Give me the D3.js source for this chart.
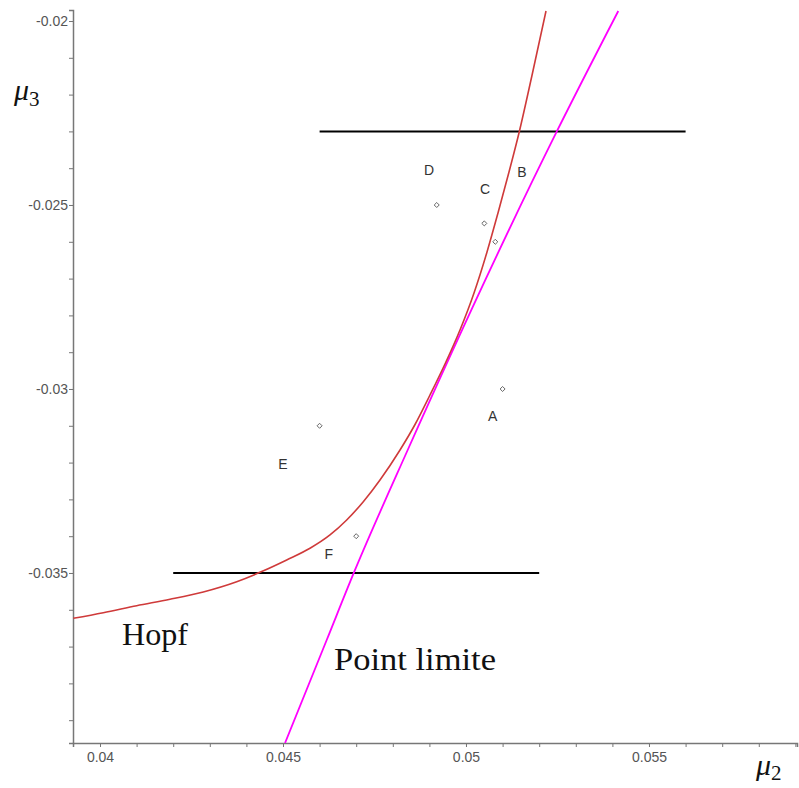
<!DOCTYPE html>
<html>
<head>
<meta charset="utf-8">
<script src="https://cdn.jsdelivr.net/npm/d3@7"></script>
<style>
  body { margin: 0; background: #fff; }
  svg { display: block; }
  .tick text { font-family: "Liberation Sans", Arial, sans-serif; font-size: 14px; fill: #555; }
  .axis path, .axis line { stroke: #777; }
  .ptlabel { font-family: "Liberation Sans", Arial, sans-serif; font-size: 14px; fill: #333; }
  .serif { font-family: "Liberation Serif", "DejaVu Serif", serif; fill: #111; }
</style>
</head>
<body>
<svg id="chart" width="799" height="788"></svg>
<script>
// Hopf bifurcation curve (mu2, mu3)
var hopf = [
  [0.039270, -0.036231], [0.040090, -0.036079], [0.041003, -0.035889],
  [0.041913, -0.035715], [0.042822, -0.035514], [0.043735, -0.035236],
  [0.044418, -0.034962], [0.045101, -0.034647], [0.045738, -0.034329],
  [0.046284, -0.033967], [0.046740, -0.033560], [0.047194, -0.033063],
  [0.047650, -0.032473], [0.048197, -0.031658], [0.048607, -0.030965],
  [0.049016, -0.030163], [0.049426, -0.029321], [0.049836, -0.028397],
  [0.050219, -0.027391], [0.050574, -0.026277], [0.050874, -0.025217],
  [0.051175, -0.024103], [0.051456, -0.023008], [0.051795, -0.021514],
  [0.052186, -0.019728]
];
// Limit point curve
var limitPoint = [
  [0.045055, -0.03962], [0.046194, -0.036821], [0.046948, -0.034965],
  [0.048407, -0.031658], [0.052478, -0.023008], [0.054161, -0.019728]
];
// Horizontal segments: [x1, x2, y]
var segments = [
  [0.046, 0.056, -0.023],
  [0.042, 0.052, -0.035]
];
// Sample points and their letters
var pointNames = ["A", "B", "C", "D", "E", "F"];
var pointMu2 = [0.0510, 0.0508, 0.0505, 0.0492, 0.0460, 0.0470];
var pointMu3 = [-0.0300, -0.0260, -0.0255, -0.0250, -0.0310, -0.0340];
var labelMu2 = [0.05073, 0.05153, 0.05052, 0.04899, 0.04500, 0.04625];
var labelMu3 = [-0.03075, -0.02410, -0.02458, -0.02405, -0.03205, -0.03448];
// Axis ticks
var xMajor = [0.04, 0.045, 0.05, 0.055];
var yMajor = [-0.02, -0.025, -0.03, -0.035];
var xMinor = d3.range(40, 60).map(d => d / 1000);
var yMinor = d3.range(-39, -19).map(d => d / 1000);

var svg = d3.select("#chart");
var x = d3.scaleLinear().domain([0.039262, 0.059044]).range([73, 797]);
var y = d3.scaleLinear().domain([-0.03962, -0.019701]).range([743, 10]);
var fmt = d => String(+d.toFixed(3));

// clip
svg.append("clipPath").attr("id", "clip")
  .append("rect").attr("x", 73).attr("y", 10).attr("width", 724).attr("height", 733);

// axes
svg.append("g").attr("class", "axis").attr("transform", "translate(0,743)")
  .call(d3.axisBottom(x).tickValues(xMinor).tickSize(4).tickFormat(""));
svg.append("g").attr("class", "axis").attr("transform", "translate(0,743)")
  .call(d3.axisBottom(x).tickValues(xMajor).tickSize(4).tickPadding(5).tickFormat(fmt))
  .select(".domain").attr("stroke-width", 1.5);
svg.append("g").attr("class", "axis").attr("transform", "translate(73,0)")
  .call(d3.axisLeft(y).tickValues(yMinor).tickSize(4).tickFormat(""));
svg.append("g").attr("class", "axis").attr("transform", "translate(73,0)")
  .call(d3.axisLeft(y).tickValues(yMajor).tickSize(4).tickPadding(1).tickFormat(fmt))
  .select(".domain").attr("stroke-width", 1.5);

var plot = svg.append("g").attr("clip-path", "url(#clip)");

// black segments
plot.selectAll("line.seg").data(segments).enter().append("line")
  .attr("x1", d => x(d[0])).attr("x2", d => x(d[1]))
  .attr("y1", d => y(d[2])).attr("y2", d => y(d[2]))
  .attr("stroke", "#000").attr("stroke-width", 2);

var line = d3.line().x(d => x(d[0])).y(d => y(d[1])).curve(d3.curveMonotoneX);
plot.append("path").datum(limitPoint).attr("d", line)
  .attr("fill", "none").attr("stroke", "#ff00ff").attr("stroke-width", 1.8);
plot.append("path").datum(hopf).attr("d", line)
  .attr("fill", "none").attr("stroke", "#cf3a3a").attr("stroke-width", 1.6);

// points
var idx = d3.range(pointNames.length);
plot.selectAll("path.pt").data(idx).enter().append("path")
  .attr("d", d3.symbol(d3.symbolDiamond2, 16))
  .attr("transform", i => `translate(${x(pointMu2[i])},${y(pointMu3[i])})`)
  .attr("fill", "none").attr("stroke", "#666").attr("stroke-width", 1);
svg.selectAll("text.ptlabel").data(idx).enter().append("text")
  .attr("class", "ptlabel").attr("text-anchor", "middle").attr("dy", "0.35em")
  .attr("x", i => x(labelMu2[i])).attr("y", i => y(labelMu3[i]))
  .text(i => pointNames[i]);

// curve names
svg.append("text").attr("class", "serif").attr("font-size", 32)
  .attr("x", 122).attr("y", 645).attr("textLength", 66).attr("lengthAdjust", "spacingAndGlyphs")
  .text("Hopf");
svg.append("text").attr("class", "serif").attr("font-size", 32)
  .attr("x", 334).attr("y", 670).attr("textLength", 162).attr("lengthAdjust", "spacingAndGlyphs")
  .text("Point limite");

// axis titles
var t3 = svg.append("text").attr("class", "serif").attr("x", 14).attr("y", 100);
t3.append("tspan").attr("font-size", 30).attr("font-style", "italic").text("μ");
t3.append("tspan").attr("font-size", 21).attr("dy", 6).text("3");
var t2 = svg.append("text").attr("class", "serif").attr("x", 756).attr("y", 775);
t2.append("tspan").attr("font-size", 30).attr("font-style", "italic").text("μ");
t2.append("tspan").attr("font-size", 21).attr("dy", 5).text("2");
</script>
</body>
</html>
